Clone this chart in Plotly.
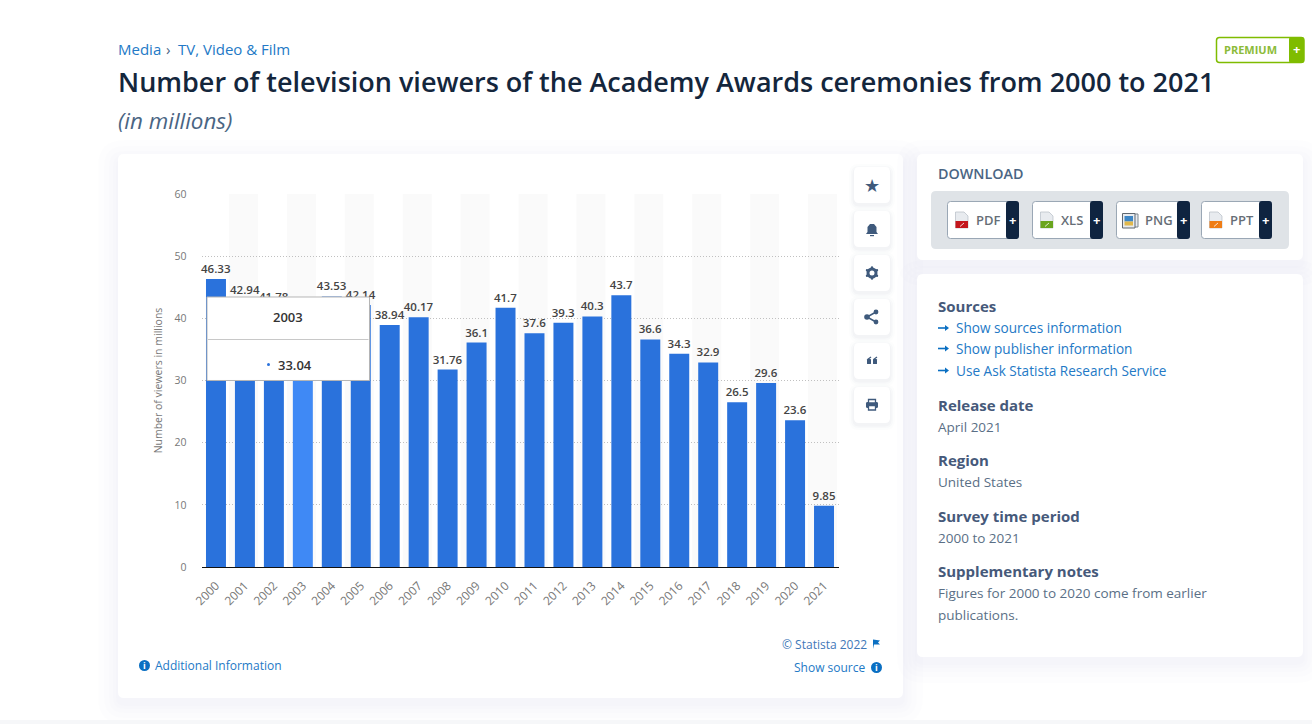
import plotly.graph_objects as go

W = 1312
H = 724
FONT = "Open Sans"

years = ["2000", "2001", "2002", "2003", "2004", "2005", "2006", "2007", "2008", "2009", "2010",
         "2011", "2012", "2013", "2014", "2015", "2016", "2017", "2018", "2019", "2020", "2021"]
viewers = [46.33, 42.94, 41.78, 33.04, 43.53, 42.14, 38.94, 40.17, 31.76, 36.1, 41.7,
           37.6, 39.3, 40.3, 43.7, 36.6, 34.3, 32.9, 26.5, 29.6, 23.6, 9.85]
labels = ["46.33", "42.94", "41.78", "33.04", "43.53", "42.14", "38.94", "40.17", "31.76", "36.1", "41.7",
          "37.6", "39.3", "40.3", "43.7", "36.6", "34.3", "32.9", "26.5", "29.6", "23.6", "9.85"]
hover_year = "2003"
y_ticks = [0, 10, 20, 30, 40, 50, 60]

BLUE = "#2a72dc"
HILITE = "#3f89f5"
NAVY = "#0f2440"
SLATE = "#4a6583"
LINK = "#2379c6"


def px(x):
    return x / W


def py(y):
    return 1 - y / H


def rrect(x0, y0, x1, y1, r):
    # rounded box as an svg path, in page pixels
    pts = [("M", x0 + r, y0), ("L", x1 - r, y0), ("Q", x1, y0, x1, y0 + r), ("L", x1, y1 - r),
           ("Q", x1, y1, x1 - r, y1), ("L", x0 + r, y1), ("Q", x0, y1, x0, y1 - r), ("L", x0, y0 + r),
           ("Q", x0, y0, x0 + r, y0)]
    out = ""
    for p in pts:
        out += p[0]
        for i in range(1, len(p), 2):
            out += f" {px(p[i]):.5f},{py(p[i + 1]):.5f} "
    return out + "Z"


def box(x0, y0, x1, y1, r=0, fill="#ffffff", line=None, width=1, layer="below"):
    shapes.append(dict(type="path", path=rrect(x0, y0, x1, y1, r), xref="paper", yref="paper", layer=layer,
                       fillcolor=fill, line=dict(color=line or "rgba(0,0,0,0)", width=width if line else 0)))


def poly(points, fill=None, line=None, width=1, layer="below"):
    path = "M " + " L ".join(f"{px(a):.5f},{py(b):.5f}" for a, b in points)
    if fill:
        path += " Z"
    shapes.append(dict(type="path", path=path, xref="paper", yref="paper", layer=layer,
                       fillcolor=fill or "rgba(0,0,0,0)", line=dict(color=line or "rgba(0,0,0,0)", width=width if line else 0)))


def dot(x, y, r, fill=None, line=None, width=1, layer="below"):
    shapes.append(dict(type="circle", xref="paper", yref="paper", layer=layer,
                       x0=px(x - r), x1=px(x + r), y0=py(y + r), y1=py(y - r),
                       fillcolor=fill or "rgba(0,0,0,0)", line=dict(color=line or "rgba(0,0,0,0)", width=width if line else 0)))


def txt(x, y, s, size=14, color=SLATE, anchor="left", weight=400, style="normal", family=FONT):
    annotations.append(dict(x=px(x), y=py(y), xref="paper", yref="paper", text=s, showarrow=False,
                            xanchor=anchor, yanchor="middle", align=anchor, borderpad=0, borderwidth=0,
                            font=dict(family=family, size=size, color=color, weight=weight, style=style)))


def card(x0, y0, x1, y1, r=6):
    # soft shadow, then the white face
    for grow in (20, 14, 9, 5, 2):
        box(x0 - grow, y0 - grow + 6, x1 + grow, y1 + grow + 6, r + grow, fill="rgba(50,60,120,0.006)")
    box(x0, y0, x1, y1, r)


shapes = []
annotations = []

# page cards
card(118, 154, 903, 698)
card(917, 154, 1303, 260)
card(917, 274, 1303, 657)
box(0, 720, 1312, 724, fill="#f6f7f9")

# striped columns behind the bars
for i, year in enumerate(years):
    if i % 2 == 1:
        shapes.append(dict(type="rect", xref="x", yref="y", layer="below", x0=i - 0.55, x1=i + 0.45, y0=0, y1=60,
                           fillcolor="#fafafa", line=dict(width=0)))

# header
txt(118, 49, "Media", 15, LINK)
txt(166, 49, "›", 15, SLATE)
txt(178, 49, "TV, Video &amp; Film", 15, LINK)
txt(118, 82, "Number of television viewers of the Academy Awards ceremonies from 2000 to 2021", 27, "#14263c", weight=600)
txt(118, 121, "(in millions)", 22.4, SLATE, style="italic")

box(1216.5, 37.5, 1304, 62.5, 3, line="#7fbc00", width=1.5)
box(1289, 37, 1304, 63, 2, fill="#7fbc00")
txt(1224, 50, "PREMIUM", 11, "#8cbb3a", weight=700)
txt(1296.5, 49, "+", 13, "#ffffff", "center", 700)

# tool buttons next to the chart
ICON = "#3f5a7c"
for top in (167, 211, 255, 299, 343, 387):
    for grow, alpha in ((5, 0.012), (3, 0.018), (1.5, 0.025)):
        box(854 - grow, top - grow + 2, 890 + grow, top + 36 + grow + 2, 5 + grow, fill=f"rgba(40,60,90,{alpha})")
    box(854, top, 890, top + 36, 5)
txt(872, 185, "★", 18, ICON, "center", family="DejaVu Sans")
# bell
poly([(866, 234), (867.5, 232), (867.5, 227), (870, 224), (874, 224), (876.5, 227), (876.5, 232), (878, 234)], fill=ICON)
poly([(870, 235.6), (874, 235.6)], line=ICON, width=1.2)
# gear
dot(872, 273, 4, line=ICON, width=3)
for dx, dy in ((0, -5.6), (0, 5.6), (-5, -2.8), (5, -2.8), (-5, 2.8), (5, 2.8)):
    dot(872 + dx, 273 + dy, 1.2, fill=ICON)
# share
poly([(876, 312), (867, 317), (876, 322)], line=ICON, width=1.5)
dot(876, 312, 2.4, fill=ICON)
dot(867, 317, 2.8, fill=ICON)
dot(876, 322, 2.4, fill=ICON)
# quotes
box(867, 359, 871, 364, 0.6, fill=ICON)
box(873, 359, 877, 364, 0.6, fill=ICON)
poly([(867.6, 359.5), (871, 357)], line=ICON, width=1.3)
poly([(873.6, 359.5), (877, 357)], line=ICON, width=1.3)
# printer
box(866, 402, 878, 408, 1.5, fill=ICON)
box(868.5, 399.5, 875.5, 403, 0, fill="#ffffff", line=ICON, width=1.3)
box(868.5, 405.5, 875.5, 410, 0, fill="#ffffff", line=ICON, width=1.3)

# download panel
txt(938, 173.5, "DOWNLOAD", 14.3, SLATE, weight=600)
box(931, 191, 1289, 249, 5, fill="#dfe3e7")
buttons = [("PDF", 947, 1006, 1019, "#c4161c"), ("XLS", 1032, 1090, 1103, "#6aa51e"),
           ("PNG", 1116, 1177, 1190, None), ("PPT", 1201, 1259, 1272, "#ef7d16")]
for name, x0, xm, x1, col in buttons:
    box(x0 + 0.5, 201.5, x1 - 0.5, 238.5, 3, line="#9aa7b5", width=1)
    box(xm, 201, x1, 239, 3, fill=NAVY)
    txt((xm + x1) / 2, 219.5, "+", 13, "#ffffff", "center", 700)
    txt(x0 + 28.5, 219.5, name, 13, "#666e76", weight=600)
    if col:
        poly([(x0 + 8.5, 212), (x0 + 17, 212), (x0 + 21, 216), (x0 + 21, 228), (x0 + 8.5, 228)], fill="#e8ebef", line="#b5bcc4", width=0.7)
        box(x0 + 8.5, 221, x0 + 21, 228, 0, fill=col)
        poly([(x0 + 13, 226.5), (x0 + 17, 223)], line="#ffffff", width=0.8)
    else:
        # picture icon for PNG
        box(x0 + 9, 214, x0 + 22, 227, 0, fill="#e8ebef", line="#7d858d", width=1)
        box(x0 + 6.5, 213.5, x0 + 19, 228, 0, fill="#e8ebef", line="#5f676f", width=1)
        box(x0 + 8.5, 216, x0 + 17, 221.5, 0, fill="#3d86c6")
        box(x0 + 8.5, 221.5, x0 + 17, 225.5, 0, fill="#e0b84c")

# sources panel
HEAD = "#46597a"
BODY = "#5a6f86"
txt(938, 306, "Sources", 15, HEAD, weight=700)
for y, s in ((328, "Show sources information"), (348.5, "Show publisher information"), (370.5, "Use Ask Statista Research Service")):
    poly([(938, y), (946, y)], line="#0a6fc2", width=1.6)
    poly([(945, y - 3), (949, y), (945, y + 3)], fill="#0a6fc2")
    txt(956, y, s, 13.6, LINK)
txt(938, 405, "Release date", 15, HEAD, weight=700)
txt(938, 427, "April 2021", 13.5, BODY)
txt(938, 460, "Region", 15, HEAD, weight=700)
txt(938, 482, "United States", 13.5, BODY)
txt(938, 516, "Survey time period", 15, HEAD, weight=700)
txt(938, 538, "2000 to 2021", 13.5, BODY)
txt(938, 571, "Supplementary notes", 15, HEAD, weight=700)
txt(938, 593, "Figures for 2000 to 2020 come from earlier", 13.5, BODY)
txt(938, 615, "publications.", 13.5, BODY)

# chart footer
dot(144.5, 665.5, 5.5, fill="#0a6fc2")
txt(144.5, 665, "i", 9, "#ffffff", "center", 700)
txt(155, 665.5, "Additional Information", 12, LINK)
txt(867, 644, "© Statista 2022", 12, "#3f78b8", "right")
poly([(873, 649), (873, 639.5), (880, 640.5), (878, 642.5), (880, 644.5), (874, 644.5)], fill="#0a6fc2")
txt(866, 667.5, "Show source", 12, LINK, "right")
dot(876.5, 667.5, 5.5, fill="#0a6fc2")
txt(876.5, 667, "i", 9, "#ffffff", "center", 700)

# tooltip sits above the bars and their labels
box(207, 297, 369.5, 380.5, 0, line="#b5b5b5", width=1, layer="above")
poly([(208, 339.5), (368.5, 339.5)], line="#c8c8c8", width=1, layer="above")
dot(268.5, 364.5, 1.5, fill=BLUE, layer="above")
txt(287.5, 316.5, hover_year, 13, "#333333", "center", 600)
txt(277.5, 365, labels[years.index(hover_year)], 13, "#333333", weight=600)

bar_colors = [HILITE if y == hover_year else BLUE for y in years]

fig = go.Figure(go.Bar(x=years, y=viewers, text=labels, textposition="outside", constraintext="none",
                       cliponaxis=False, textangle=0, marker=dict(color=bar_colors, line=dict(width=0)),
                       textfont=dict(family=FONT, size=11.5, color="#444444", weight=600), hoverinfo="skip"))

fig.update_layout(
    width=W, height=H, margin=dict(l=0, r=0, t=0, b=0), autosize=False,
    paper_bgcolor="#ffffff", plot_bgcolor="rgba(0,0,0,0)", showlegend=False, bargap=0.31,
    font=dict(family=FONT), shapes=shapes, annotations=annotations,
    xaxis=dict(domain=[px(201.5), px(838.5)], type="category", tickangle=-45, showgrid=False, ticks="", showline=True,
               automargin=False, linecolor="#111111", linewidth=1, ticklabelstandoff=6,
               tickfont=dict(family=FONT, size=12, color="#777777"), fixedrange=True),
    yaxis=dict(domain=[py(567), py(194)], range=[0, 60], tickvals=y_ticks, showgrid=True, gridcolor="#c0c0c0", griddash="1px,2px",
               gridwidth=1, zeroline=False, showline=False, ticks="", ticklabelstandoff=14, automargin=False,
               tickfont=dict(family=FONT, size=10.5, color="#777777"),
               title=dict(text="Number of viewers in millions", standoff=9, font=dict(family=FONT, size=10.5, color="#777777")),
               fixedrange=True),
)

fig.write_html("out.html", config=dict(displayModeBar=False), post_script="document.body.style.margin='0';")
